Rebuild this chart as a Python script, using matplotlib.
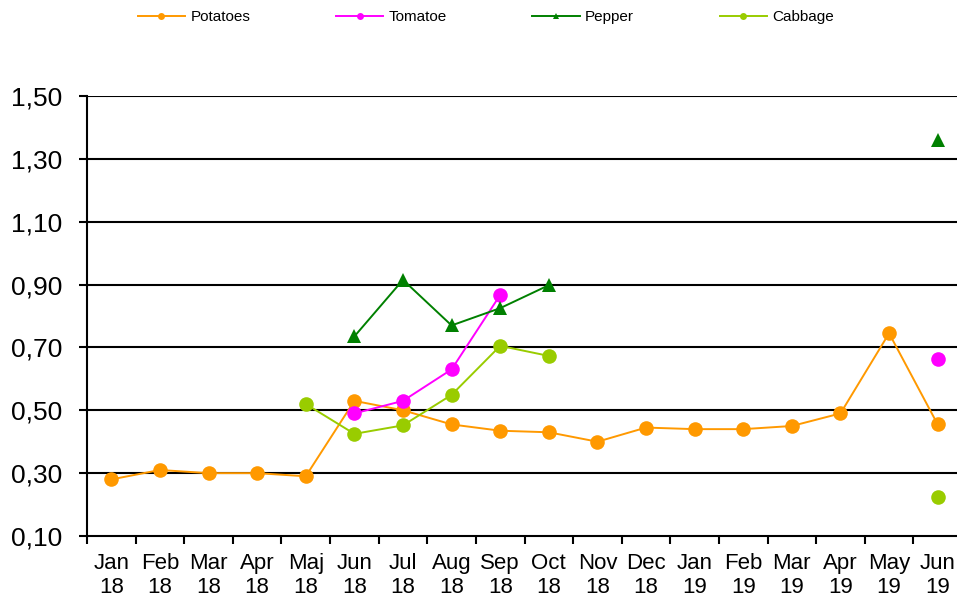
import numpy as np
import matplotlib
matplotlib.use("Agg")
import matplotlib.pyplot as plt
from matplotlib.lines import Line2D
from matplotlib.ticker import FuncFormatter, FixedLocator

nan = np.nan
months = ["Jan\n18", "Feb\n18", "Mar\n18", "Apr\n18", "Maj\n18", "Jun\n18", "Jul\n18", "Aug\n18",
          "Sep\n18", "Oct\n18", "Nov\n18", "Dec\n18", "Jan\n19", "Feb\n19", "Mar\n19", "Apr\n19",
          "May\n19", "Jun\n19"]
potatoes = [0.28, 0.31, 0.30, 0.30, 0.29, 0.53, 0.50, 0.455, 0.435, 0.43, 0.40, 0.445,
            0.44, 0.44, 0.45, 0.49, 0.745, 0.455]
tomatoe = [nan, nan, nan, nan, nan, 0.49, 0.53, 0.63, 0.867, nan, nan, nan,
           nan, nan, nan, nan, nan, 0.663]
pepper = [nan, nan, nan, nan, nan, 0.735, 0.915, 0.77, 0.825, 0.898, nan, nan,
          nan, nan, nan, nan, nan, 1.36]
cabbage = [nan, nan, nan, nan, 0.52, 0.425, 0.452, 0.549, 0.705, 0.673, nan, nan,
           nan, nan, nan, nan, nan, 0.225]
yticks = [0.10, 0.30, 0.50, 0.70, 0.90, 1.10, 1.30, 1.50]

plt.rcParams['font.family'] = ['Liberation Sans', 'DejaVu Sans']
fig = plt.figure(figsize=(9.57, 6.02), dpi=100)
ax = fig.add_axes([87/957, 66/602, 875/957, 440/602])
x = np.arange(len(months))

series = [("Potatoes", potatoes, "#FF9900", "o"),
          ("Tomatoe", tomatoe, "#FF00FF", "o"),
          ("Pepper", pepper, "#008000", "^"),
          ("Cabbage", cabbage, "#99CC00", "o")]
handles = []
for name, vals, col, mk in series:
    ms = 10.5 if mk == "o" else 9.5
    ax.plot(x, vals, color=col, lw=1.4, marker=mk, markersize=ms, markeredgewidth=0, zorder=3)
    handles.append(Line2D([], [], color=col, lw=1.4, marker=mk, markersize=5, markeredgewidth=0))

ax.set_xlim(-0.5, len(months) - 0.5)
ax.set_ylim(0.10, 1.50)
ax.yaxis.set_major_locator(FixedLocator(yticks))
ax.yaxis.set_major_formatter(FuncFormatter(lambda v, p: f"{v:.2f}".replace(".", ",")))
for v in yticks[1:]:
    ax.axhline(v, color="black", lw=1.5, zorder=1)

ax.set_xticks(x)
ax.set_xticklabels(months, fontsize=16, linespacing=1.2)
ax.set_xticks(np.arange(-0.5, len(months), 1), minor=True)
ax.tick_params(axis="x", which="major", length=0, pad=12)
ax.tick_params(axis="x", which="minor", length=6, width=1.5, direction="out")
ax.tick_params(axis="y", labelsize=19, length=6, width=1.5, direction="out", pad=12)

for s in ["top", "right"]:
    ax.spines[s].set_visible(False)
for s in ["left", "bottom"]:
    ax.spines[s].set_linewidth(1.5)

fig.legend(handles, [s[0] for s in series], loc="center", bbox_to_anchor=(486/957, 1 - 17/602),
           ncol=4, frameon=False, fontsize=11, handlelength=3.1, columnspacing=5.6,
           handletextpad=0.35)

fig.savefig("out.png", dpi=100)
